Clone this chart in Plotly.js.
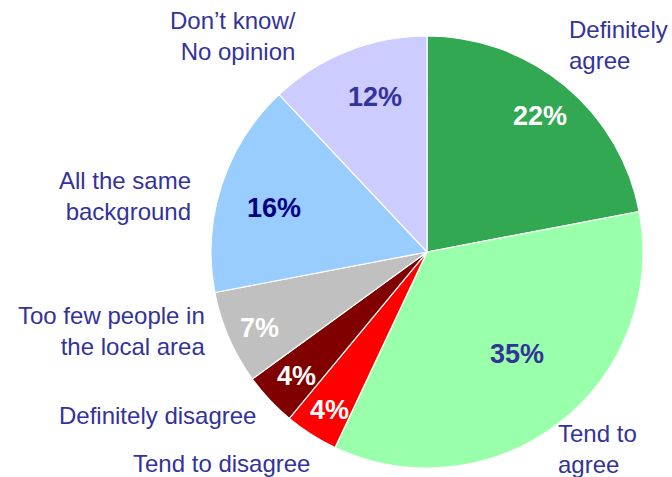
<!DOCTYPE html>
<html>
<head>
<meta charset="utf-8">
<script src="https://cdn.plot.ly/plotly-3.0.1.min.js"></script>
<style>html,body{margin:0;padding:0;background:#fff;}#chart{width:672px;height:477px;}</style>
</head>
<body>
<div id="chart"></div>
<script>
const categories = ["Definitely agree", "Tend to agree", "Tend to disagree", "Definitely disagree", "Too few people in the local area", "All the same background", "Don't know/ No opinion"];
const values = [22, 35, 4, 4, 7, 16, 12];
const sliceColors = ["#33A853", "#99FFAA", "#FF0000", "#800000", "#C0C0C0", "#99CCFF", "#CCCCFF"];
const pctColors = ["#FFFFFF", "#333399", "#FFFFFF", "#FFFFFF", "#FFFFFF", "#000080", "#333399"];
const outerLabels = ["Definitely<br>agree", "Tend to<br>agree", "Tend to disagree", "Definitely disagree", "Too few people in<br>the local area", "All the same<br>background", "Don’t know/<br>No opinion"];

const W = 672, H = 477;
const cx = 427, cy = 252, R = 216;
// outer label anchor positions (pixels) and alignment
const labelPos = [
  {x: 567, y: 45, a: "left"},
  {x: 556, y: 449, a: "left"},
  {x: 312, y: 463, a: "right"},
  {x: 258, y: 415, a: "right"},
  {x: 207, y: 331, a: "right"},
  {x: 193, y: 196, a: "right"},
  {x: 298, y: 36, a: "right"}
];
// percentage label centres (pixels)
const pctPos = [[540, 116], [517, 354], [329, 410], [296, 376], [259, 328], [274, 208], [375, 97]];

const FONT = "Liberation Sans, Arial, sans-serif";

const trace = {
  type: "pie",
  labels: categories,
  values: values,
  sort: false,
  direction: "clockwise",
  rotation: 0,
  marker: {colors: sliceColors, line: {color: "#FFFFFF", width: 1.2}},
  textinfo: "none",
  hoverinfo: "none",
  showlegend: false,
  domain: {x: [(cx - R) / W, (cx + R) / W], y: [(H - cy - R) / H, (H - cy + R) / H]}
};

const annotations = outerLabels.map((t, i) => ({
  text: t,
  xref: "paper", yref: "paper",
  x: labelPos[i].x / W, y: 1 - labelPos[i].y / H,
  xanchor: labelPos[i].a, yanchor: "middle",
  align: labelPos[i].a,
  showarrow: false,
  font: {family: FONT, size: 24, color: "#333399"}
})).concat(values.map((v, i) => ({
  text: "<b>" + v + "%</b>",
  xref: "paper", yref: "paper",
  x: pctPos[i][0] / W, y: 1 - pctPos[i][1] / H,
  xanchor: "center", yanchor: "middle",
  showarrow: false,
  font: {family: FONT, size: 27, color: pctColors[i]}
})));

Plotly.newPlot("chart", [trace], {
  width: W, height: H,
  margin: {l: 0, r: 0, t: 0, b: 0},
  paper_bgcolor: "#FFFFFF",
  annotations: annotations
}, {staticPlot: true, displayModeBar: false});
</script>
</body>
</html>
